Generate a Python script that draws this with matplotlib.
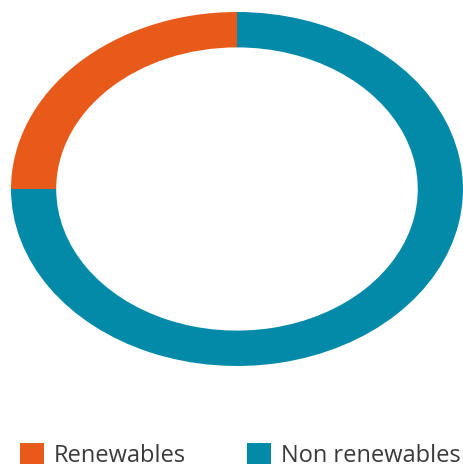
import matplotlib
matplotlib.use('Agg')
import matplotlib.pyplot as plt

labels = ['Renewables', 'Non renewables']
shares = [25, 75]
colors = ['#E85A19', '#028AA8']

plt.rcParams['font.family'] = ['Open Sans', 'DejaVu Sans']

fig = plt.figure(figsize=(4.64, 4.65), dpi=100)
ax = fig.add_axes([0, 0, 1, 1])

wedges, _ = ax.pie(shares, colors=colors, startangle=90, counterclock=True,
                   radius=1.0, wedgeprops=dict(width=0.2, linewidth=0))

# stretch the ring into an ellipse like the original
ax.set_aspect('auto')
ax.set_xlim(-237 / 226, (464 - 237) / 226)
ax.set_ylim(-(465 - 189) / 177, 189 / 177)
ax.axis('off')

fig.legend(wedges, labels, loc='upper left', bbox_to_anchor=(20 / 464, 1 - 443 / 465),
           ncol=2, frameon=False, fontsize=17, borderpad=0, borderaxespad=0,
           handlelength=1.0, handleheight=1.0, handletextpad=0.42,
           columnspacing=2.6, labelcolor='#3a3a3a')

fig.savefig('out.png', dpi=100)
